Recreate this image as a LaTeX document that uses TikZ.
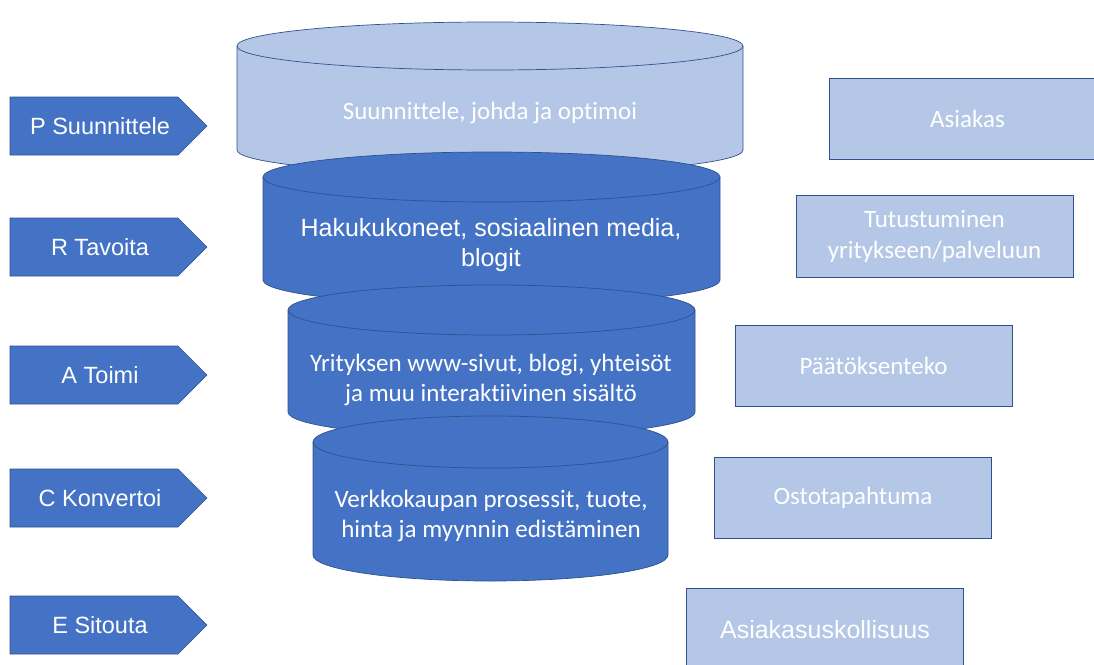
\documentclass[tikz,border=0pt]{standalone}
\usepackage{fontspec}
\setmainfont{Liberation Sans}
\newfontfamily\bodyfont[Ligatures=NoCommon]{Carlito}
\definecolor{accent}{HTML}{4472C4}
\definecolor{accentdark}{HTML}{2F528F}
\definecolor{accentlight}{HTML}{B4C7E7}

% pentagon arrow: name, vertical centre, label
\newcommand\stagearrow[3]{%
  \filldraw[fill=accent, draw=accentdark, line width=0.6pt]
    (10,{#2-29}) -- (178,{#2-29}) -- (207,#2) -- (178,{#2+29}) -- (10,{#2+29}) -- cycle;
  \node[stagetext] (#1) at (100,#2) {#3};}

% cylinder (can): centre x, top-ellipse y, bottom-ellipse y, x radius, y radius, fill
\newcommand\canlayer[6]{%
  \fill[#6] ({#1-#4},#2) -- ({#1-#4},#3)
    arc[start angle=180, end angle=0, x radius=#4, y radius=#5]
    -- ({#1+#4},#2) arc[start angle=0, end angle=-180, x radius=#4, y radius=#5] -- cycle;
  \draw[accentdark, line width=0.7pt] ({#1-#4},#2) -- ({#1-#4},#3)
    arc[start angle=180, end angle=0, x radius=#4, y radius=#5] -- ({#1+#4},#2);
  \draw[accentdark, line width=0.7pt] (#1,#2) ellipse[x radius=#4, y radius=#5];}

\tikzset{
  stagetext/.style={text=white, font=\fontsize{23.5}{28}\selectfont, inner sep=0pt},
  layertext/.style={text=white, align=center, inner sep=0pt},
  calibritext/.style={layertext, font=\bodyfont\fontsize{25}{30}\selectfont},
  ariatext/.style={layertext, font=\fontsize{25}{30}\selectfont},
  phasebox/.style={fill=accentlight, draw=accentdark, line width=0.6pt,
    minimum width=277pt, minimum height=81pt, inner sep=0pt, text=white, align=center},
}

\begin{document}
\begin{tikzpicture}[x=1pt, y=-1pt]
\useasboundingbox (0,0) rectangle (1094,664);
\clip (0,0) rectangle (1094,664);

% stage arrows
\stagearrow{plan}{126}{P Suunnittele}
\stagearrow{reach}{247}{R Tavoita}
\stagearrow{act}{375}{A Toimi}
\stagearrow{convert}{498}{C Konvertoi}
\stagearrow{engage}{625}{E Sitouta}

% funnel of cans, upper layers first
\canlayer{490}{46}{150}{253}{24}{accentlight}
\canlayer{491.5}{177}{280}{228.5}{25}{accent}
\canlayer{491.5}{310}{412}{203.5}{25}{accent}
\canlayer{490.5}{442}{555}{177.5}{26}{accent}

\node[calibritext] (manage) at (490,113) {Suunnittele, johda ja optimoi};
\node[ariatext] (channels) at (491,245) {Hakukukoneet, sosiaalinen media,\\blogit};
\node[calibritext] (site) at (491,380) {Yrityksen www-sivut, blogi, yhteisöt\\ja muu interaktiivinen sisältö};
\node[calibritext] (shop) at (491,516) {Verkkokaupan prosessit, tuote,\\hinta ja myynnin edistäminen};

% customer phases
\node[phasebox, font=\bodyfont\fontsize{25}{30}\selectfont] (customer) at (967.5,118.5) {Asiakas};
\node[phasebox, font=\bodyfont\fontsize{25}{31}\selectfont, minimum height=82pt] (intro) at (934.5,236) {Tutustuminen\\yritykseen/palveluun};
\node[phasebox, font=\bodyfont\fontsize{25}{30}\selectfont] (decide) at (873.5,365.5) {Päätöksenteko};
\node[phasebox, font=\bodyfont\fontsize{25}{30}\selectfont] (buy) at (853,497.5) {Ostotapahtuma};
\node[phasebox, font=\fontsize{25}{30}\selectfont, minimum height=84pt] (loyal) at (825,630) {Asiakasuskollisuus};
\end{tikzpicture}
\end{document}
